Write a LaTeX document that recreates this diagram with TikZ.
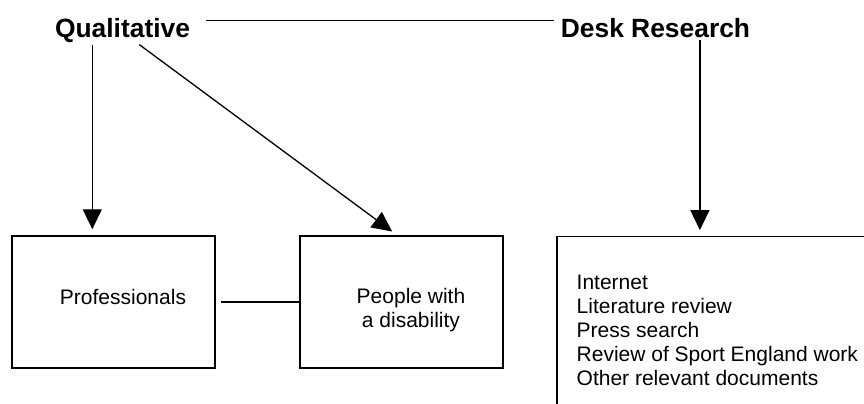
\documentclass[tikz,border=0pt]{standalone}
\usepackage{fontspec}
\setmainfont{Liberation Sans}
\usetikzlibrary{arrows.meta}

\tikzset{
  heading/.style={font=\fontsize{13.2}{15}\selectfont\bfseries, inner sep=1pt, anchor=base},
  box/.style={draw, line width=0.85pt, minimum width=101.6pt, minimum height=66.3pt, inner sep=0pt},
  body/.style={font=\fontsize{10.5}{12}\selectfont, inner sep=0pt},
  link/.style={line width=0.65pt},
  arrow/.style={link, -{Triangle[width=9.5pt,length=10pt]}, shorten >=2.8pt}
}

\begin{document}
\begin{tikzpicture}[x=0.5pt,y=-0.5pt]
  \useasboundingbox (0,0) rectangle (864,403);
  \clip (0,0) rectangle (864,403);

  % headings
  \node[heading] (qual) at (122.5,37) {Qualitative};
  \node[heading] (desk) at (655.5,37) {Desk Research};

  % boxes
  \node[box] (prof) at (113.3,302) {};
  \node[box] (people) at (401.5,302) {};
  \node[box, anchor=north west, minimum width=200pt, minimum height=120pt] (docs) at (556,235.7) {};

  \node[body, anchor=base] (proftext) at (123,304) {Professionals};
  \node[body, anchor=base, align=center] (peopletext) at (411,327) {People with\\a disability};
  \node[body, anchor=base west, align=left] (docstext) at (576.3,385) {Internet\\Literature review\\Press search\\Review of Sport England work\\Other relevant documents};

  % connectors
  \coordinate (qualleft) at ([xshift=-15.1pt]qual.south);
  \coordinate (deskright) at ([xshift=22.2pt]desk.south);
  \draw[link] ([xshift=7pt,yshift=8.15pt]qual.base east) -- ([xshift=-2pt,yshift=8.15pt]desk.base west);
  \draw[arrow] (qualleft) -- (qualleft |- prof.north);
  \draw[arrow] ([xshift=8.4pt]qual.south) -- ([xshift=-2.4pt]people.north);
  \draw[arrow] (deskright) -- (deskright |- docs.north);
  \draw[link] ([xshift=2.5pt]prof.east) -- (people.west);
\end{tikzpicture}
\end{document}
